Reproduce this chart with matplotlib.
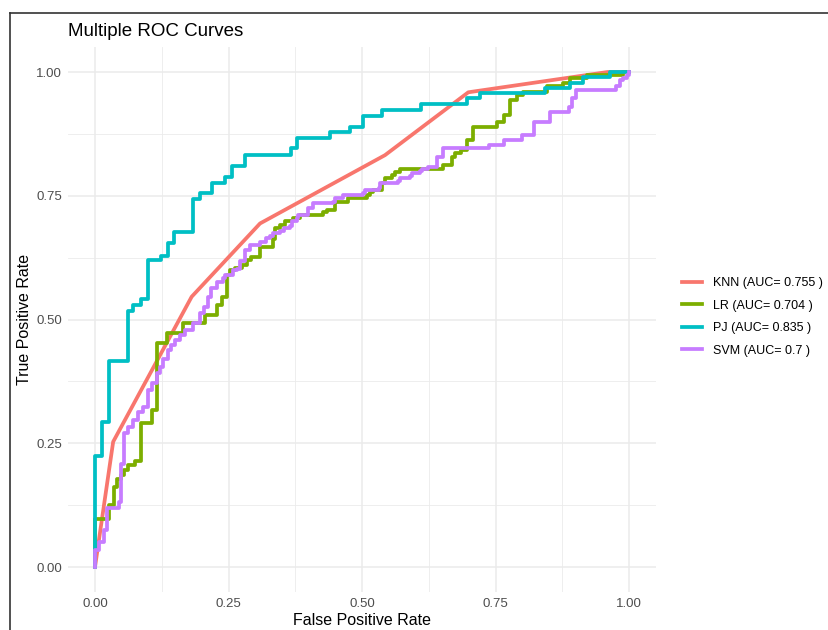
import matplotlib
matplotlib.use("Agg")
import matplotlib.pyplot as plt
from matplotlib.lines import Line2D

plt.rcParams['font.family'] = ['Liberation Sans', 'DejaVu Sans']

# ROC points (fpr, tpr)
knn_fpr = [0, 0.034, 0.181, 0.309, 0.543, 0.699, 0.960, 1.0]
knn_tpr = [0, 0.253, 0.546, 0.694, 0.832, 0.959, 1.0, 1.0]

lr_fpr = [0, 0, 0.026, 0.036, 0.042, 0.049, 0.055, 0.062, 0.074, 0.087, 0.106, 0.116, 0.135,
          0.165, 0.206, 0.228, 0.237, 0.247, 0.253, 0.262, 0.275, 0.284, 0.293, 0.309, 0.334,
          0.337, 0.346, 0.356, 0.371, 0.384, 0.427, 0.434, 0.449, 0.474, 0.509, 0.515, 0.521,
          0.537, 0.543, 0.556, 0.562, 0.571, 0.652, 0.668, 0.674, 0.686, 0.696, 0.708, 0.752,
          0.765, 0.777, 0.790, 0.802, 0.846, 0.877, 0.890, 0.921, 0.989, 1.0]
lr_tpr = [0, 0.096, 0.125, 0.162, 0.177, 0.186, 0.196, 0.206, 0.215, 0.290, 0.317, 0.452, 0.472,
          0.493, 0.509, 0.529, 0.546, 0.590, 0.600, 0.605, 0.610, 0.620, 0.627, 0.647, 0.663,
          0.685, 0.691, 0.698, 0.705, 0.711, 0.718, 0.721, 0.738, 0.745, 0.752, 0.758, 0.762,
          0.775, 0.785, 0.792, 0.798, 0.805, 0.812, 0.829, 0.836, 0.842, 0.863, 0.889, 0.899,
          0.913, 0.943, 0.953, 0.960, 0.971, 0.977, 0.987, 0.994, 1.0, 1.0]

pj_fpr = [0, 0, 0.014, 0.027, 0.062, 0.072, 0.086, 0.099, 0.124, 0.136, 0.147, 0.184, 0.196,
          0.220, 0.243, 0.257, 0.281, 0.367, 0.379, 0.440, 0.478, 0.501, 0.537, 0.611, 0.696,
          0.720, 0.843, 0.890, 0.914, 0.964, 1.0]
pj_tpr = [0, 0.224, 0.293, 0.416, 0.517, 0.529, 0.541, 0.620, 0.628, 0.654, 0.676, 0.743, 0.755,
          0.776, 0.788, 0.810, 0.832, 0.846, 0.866, 0.878, 0.889, 0.912, 0.923, 0.935, 0.947,
          0.957, 0.967, 0.977, 0.990, 1.0, 1.0]

svm_fpr = [0, 0, 0.008, 0.016, 0.022, 0.044, 0.049, 0.055, 0.062, 0.072, 0.081, 0.090, 0.100,
           0.106, 0.116, 0.122, 0.128, 0.136, 0.142, 0.150, 0.159, 0.169, 0.184, 0.197, 0.205,
           0.211, 0.218, 0.228, 0.240, 0.243, 0.259, 0.265, 0.272, 0.281, 0.290, 0.309, 0.321,
           0.328, 0.334, 0.346, 0.353, 0.365, 0.368, 0.378, 0.381, 0.399, 0.409, 0.446, 0.449,
           0.465, 0.502, 0.506, 0.531, 0.534, 0.568, 0.571, 0.590, 0.593, 0.609, 0.612, 0.624,
           0.640, 0.652, 0.738, 0.765, 0.800, 0.822, 0.852, 0.888, 0.893, 0.900, 0.975, 0.983,
           0.989, 0.996, 1.0]
svm_tpr = [0, 0.034, 0.051, 0.075, 0.119, 0.132, 0.209, 0.270, 0.283, 0.297, 0.313, 0.323, 0.358,
           0.371, 0.391, 0.404, 0.421, 0.438, 0.448, 0.459, 0.469, 0.479, 0.493, 0.513, 0.526,
           0.546, 0.563, 0.576, 0.583, 0.590, 0.600, 0.603, 0.618, 0.640, 0.651, 0.657, 0.664,
           0.668, 0.674, 0.678, 0.685, 0.688, 0.698, 0.705, 0.711, 0.725, 0.735, 0.738, 0.745,
           0.752, 0.755, 0.762, 0.765, 0.775, 0.779, 0.785, 0.789, 0.796, 0.799, 0.805, 0.809,
           0.829, 0.846, 0.853, 0.862, 0.872, 0.899, 0.920, 0.930, 0.947, 0.964, 0.971, 0.984,
           0.987, 0.994, 1.0]

labels = ["KNN (AUC= 0.755 )", "LR (AUC= 0.704 )", "PJ (AUC= 0.835 )", "SVM (AUC= 0.7 )"]
colors = ["#F8766D", "#7CAE00", "#00BFC4", "#C77CFF"]
ticks = [0, 0.25, 0.5, 0.75, 1.0]
minor = [0.125, 0.375, 0.625, 0.875]

fig = plt.figure(figsize=(8.29, 6.30), dpi=100)
ax = fig.add_axes([0.0824, 0.0607, 0.7086, 0.8643])

lw = 2.7
ax.plot(knn_fpr, knn_tpr, color=colors[0], lw=lw, label=labels[0])
ax.plot(lr_fpr, lr_tpr, color=colors[1], lw=lw, drawstyle="steps-post", label=labels[1])
ax.plot(pj_fpr, pj_tpr, color=colors[2], lw=lw, drawstyle="steps-post", label=labels[2])
ax.plot(svm_fpr, svm_tpr, color=colors[3], lw=lw, drawstyle="steps-post", label=labels[3])

ax.set_xlim(-0.05, 1.05)
ax.set_ylim(-0.05, 1.05)
ax.set_xticks(ticks)
ax.set_yticks(ticks)
ax.set_xticks(minor, minor=True)
ax.set_yticks(minor, minor=True)
ax.set_xticklabels(["%.2f" % t for t in ticks])
ax.set_yticklabels(["%.2f" % t for t in ticks])
ax.grid(True, which="major", color="#EBEBEB", lw=1.1)
ax.grid(True, which="minor", color="#EBEBEB", lw=0.6)
ax.set_axisbelow(True)
for s in ax.spines.values():
    s.set_visible(False)
ax.tick_params(which="both", length=0, pad=4.5, labelsize=9.5, labelcolor="#4D4D4D")

ax.set_title("Multiple ROC Curves", loc="left", fontsize=13.5, pad=8)
ax.set_xlabel("False Positive Rate", fontsize=11.5, labelpad=2)
ax.set_ylabel("True Positive Rate", fontsize=11.5, labelpad=3)

ax.legend(loc="center left", bbox_to_anchor=(0.8227, 0.497), bbox_transform=fig.transFigure,
          frameon=False, fontsize=9, handlelength=1.6, handletextpad=0.9,
          labelspacing=0.85, borderpad=0, borderaxespad=0)

# border of the screenshot
fig.add_artist(Line2D([10 / 829, 1], [1 - 13 / 630, 1 - 13 / 630], color="#333333", lw=1.2))
fig.add_artist(Line2D([10 / 829, 10 / 829], [0, 1 - 13 / 630], color="#333333", lw=1.2))

plt.savefig("out.png", dpi=100)
